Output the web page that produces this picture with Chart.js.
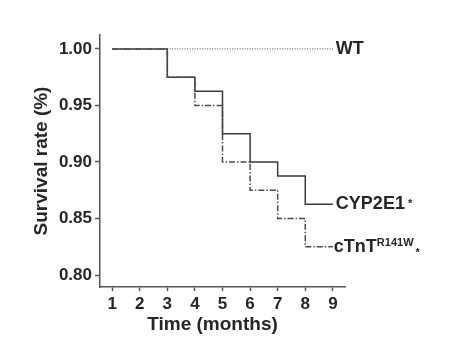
<!DOCTYPE html>
<html>
<head>
<meta charset="utf-8">
<script src="https://cdn.jsdelivr.net/npm/chart.js@4.4.0/dist/chart.umd.min.js"></script>
<style>
  html, body { margin: 0; padding: 0; background: #fff; }
</style>
</head>
<body>
<canvas id="survival" width="464" height="353"></canvas>
<script>
// survival data
var months = [1, 2, 3, 4, 5, 6, 7, 8, 9];
var wtRate = [1, 1, 1, 1, 1, 1, 1, 1, 1];
var cypRate = [1, 1, 0.975, 0.9625, 0.925, 0.9, 0.8875, 0.8625, 0.8625];
var ctntRate = [1, 1, 0.975, 0.95, 0.9, 0.875, 0.85, 0.825, 0.825];
var yTicks = [0.80, 0.85, 0.90, 0.95, 1.00];

var inkColor = '#262626';
var axisColor = '#555555';
var fontFamily = '"Liberation Sans", Arial, Helvetica, sans-serif';

function toPoints(values) {
    return months.map(function (m, i) { return { x: m, y: values[i] }; });
}

// group labels at the end of each curve + x axis title
var curveLabels = {
    id: 'curveLabels',
    afterDatasetsDraw: function (chart) {
        var ctx = chart.ctx;
        var xs = chart.scales.x;
        var ys = chart.scales.y;
        var endX = xs.getPixelForValue(months[months.length - 1]);
        ctx.save();
        ctx.fillStyle = inkColor;
        ctx.textBaseline = 'middle';
        ctx.textAlign = 'left';

        ctx.font = 'bold 18px ' + fontFamily;
        ctx.fillText('WT', endX + 3, ys.getPixelForValue(wtRate[wtRate.length - 1]));

        var yCyp = ys.getPixelForValue(cypRate[cypRate.length - 1]);
        ctx.fillText('CYP2E1', endX + 3, yCyp);
        var w = ctx.measureText('CYP2E1').width;
        ctx.font = 'bold 11px ' + fontFamily;
        ctx.fillText('*', endX + 6 + w, yCyp);

        var yCt = ys.getPixelForValue(ctntRate[ctntRate.length - 1]);
        ctx.font = 'bold 18px ' + fontFamily;
        ctx.fillText('cTnT', endX + 1, yCt);
        var w2 = ctx.measureText('cTnT').width;
        ctx.font = 'bold 11px ' + fontFamily;
        ctx.fillText('R141W', endX + 1 + w2, yCt - 4);
        var w3 = ctx.measureText('R141W').width;
        ctx.fillText('*', endX + 3 + w2 + w3, yCt + 6);

        // x axis title, sits a little left of centre in the original
        ctx.font = 'bold 19px ' + fontFamily;
        ctx.textAlign = 'center';
        ctx.fillText('Time (months)', (xs.left + xs.right) / 2 - 10, xs.top + 38);
        ctx.restore();
    }
};

new Chart(document.getElementById('survival').getContext('2d'), {
    type: 'line',
    data: {
        datasets: [
            {
                label: 'WT',
                data: toPoints(wtRate),
                borderColor: '#6a6a6a',
                borderWidth: 1.2,
                borderDash: [1, 1.5],
                pointRadius: 0,
                stepped: 'before'
            },
            {
                label: 'cTnT R141W',
                data: toPoints(ctntRate),
                borderColor: '#4a4a4a',
                borderWidth: 1.5,
                borderDash: [6, 2, 1.5, 2],
                pointRadius: 0,
                stepped: 'before'
            },
            {
                label: 'CYP2E1',
                data: toPoints(cypRate),
                borderColor: '#3a3a3a',
                borderWidth: 1.5,
                pointRadius: 0,
                stepped: 'before'
            }
        ]
    },
    options: {
        responsive: false,
        animation: false,
        layout: {
            padding: { top: 35, right: 119, left: 0, bottom: 0 }
        },
        plugins: {
            legend: { display: false },
            tooltip: { enabled: false }
        },
        scales: {
            x: {
                type: 'linear',
                min: 0.56,
                max: 9.44,
                afterBuildTicks: function (scale) {
                    scale.ticks = months.map(function (m) { return { value: m }; });
                },
                afterFit: function (scale) { scale.height = 66; },
                border: { color: axisColor, width: 1.5 },
                grid: { drawOnChartArea: false, tickLength: 4, color: axisColor, tickWidth: 1.5 },
                ticks: {
                    color: inkColor,
                    padding: 3,
                    maxRotation: 0,
                    font: { family: fontFamily, size: 17, weight: 'bold' }
                }
            },
            y: {
                min: 0.7894,
                max: 1.0123,
                afterBuildTicks: function (scale) {
                    scale.ticks = yTicks.map(function (v) { return { value: v }; });
                },
                afterFit: function (scale) { scale.width = 100; },
                border: { color: axisColor, width: 1.5 },
                grid: { drawOnChartArea: false, tickLength: 5, color: axisColor, tickWidth: 1.5 },
                ticks: {
                    color: inkColor,
                    padding: 3,
                    font: { family: fontFamily, size: 17, weight: 'bold' },
                    callback: function (v) { return Number(v).toFixed(2); }
                },
                title: {
                    display: true,
                    text: 'Survival rate (%)',
                    color: inkColor,
                    padding: { top: 30, bottom: 0 },
                    font: { family: fontFamily, size: 19, weight: 'bold' }
                }
            }
        }
    },
    plugins: [curveLabels]
});
</script>
</body>
</html>
